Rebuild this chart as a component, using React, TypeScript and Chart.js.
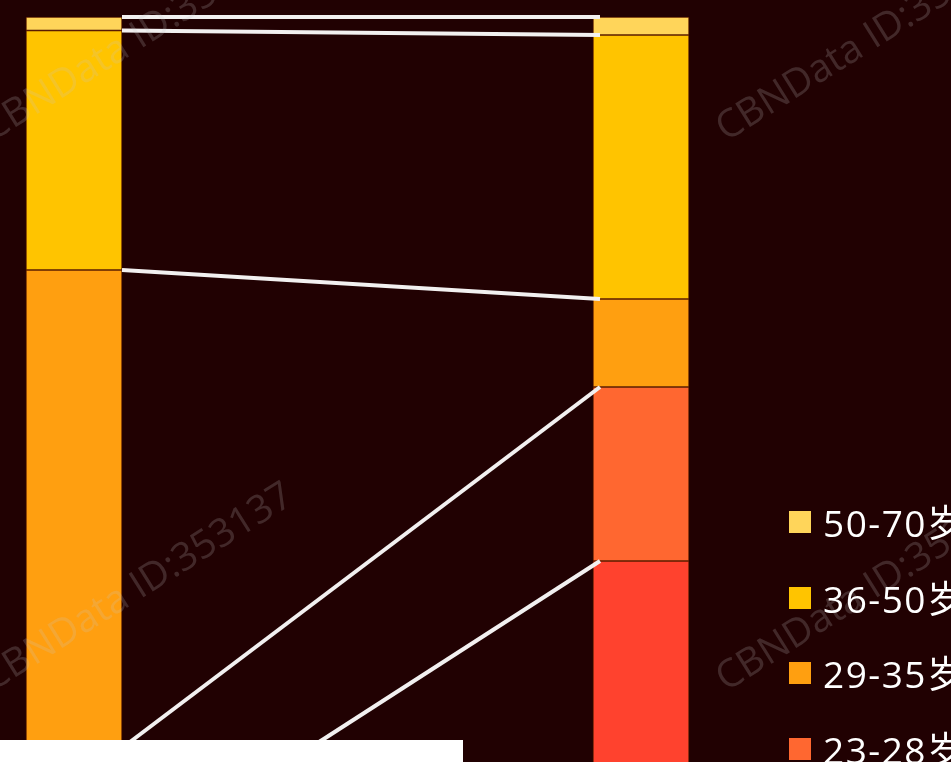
import React, { useEffect, useRef } from "react";
import { Chart, registerables } from "chart.js";

Chart.register(...registerables);

const categories = ["之前", "之后"];
const ageGroups = ["50-70岁", "36-50岁", "29-35岁", "23-28岁", "18-22岁"];
const leftShares = [1.35, 23.95, 47.8, 12.1, 14.8];
const rightShares = [1.8, 26.4, 8.8, 17.4, 45.6];
const groupColors = ["#FFD55A", "#FFC400", "#FF9F10", "#FF6730", "#FF422E"];
const watermarkText = "CBNData ID:353137";

const BG = "#210102";
const CANVAS_W = 951;
const CANVAS_H = 1040;

const connectorPlugin = {
  id: "connectors",
  afterDatasetsDraw(chart: any) {
    const meta = chart.getDatasetMeta(0);
    const bars = meta.data;
    if (!bars || bars.length < 2) return;
    const yScale = chart.scales.y;
    const x1 = bars[0].x + bars[0].width / 2;
    const x2 = bars[1].x - bars[1].width / 2 + 7;
    const ctx = chart.ctx;
    ctx.save();
    ctx.strokeStyle = "#F2F0F0";
    ctx.lineWidth = 4;
    ctx.lineCap = "butt";
    let cl = 0;
    let cr = 0;
    for (let k = 0; k < ageGroups.length; k++) {
      ctx.beginPath();
      ctx.moveTo(x1, yScale.getPixelForValue(cl));
      ctx.lineTo(x2, yScale.getPixelForValue(cr));
      ctx.stroke();
      cl += leftShares[k];
      cr += rightShares[k];
    }
    ctx.restore();
  },
};

const watermarkPlugin = {
  id: "watermark",
  afterDraw(chart: any) {
    const ctx = chart.ctx;
    const spots = [
      [-8, 142],
      [726, 142],
      [-8, 692],
      [726, 692],
    ];
    ctx.save();
    ctx.font = "39px 'Open Sans', 'DejaVu Sans', sans-serif";
    ctx.fillStyle = "rgba(200,200,200,0.2)";
    ctx.textBaseline = "alphabetic";
    for (const [x, y] of spots) {
      ctx.save();
      ctx.translate(x, y);
      ctx.rotate((-32 * Math.PI) / 180);
      ctx.fillText(watermarkText, 0, 0);
      ctx.restore();
    }
    ctx.restore();
  },
};

export default function App() {
  const canvasRef = useRef<HTMLCanvasElement | null>(null);

  useEffect(() => {
    const canvas = canvasRef.current;
    if (!canvas) return;
    const chart = new Chart(canvas, {
      type: "bar",
      data: {
        labels: categories,
        datasets: ageGroups.map((g, i) => ({
          label: g,
          data: [leftShares[i], rightShares[i]],
          backgroundColor: groupColors[i],
          borderColor: "rgba(150,60,0,0.5)",
          borderWidth: 1,
          borderSkipped: false,
          barThickness: 96,
          clip: false as any,
        })),
      },
      options: {
        responsive: false,
        devicePixelRatio: 1,
        animation: false,
        layout: { padding: { left: 74, right: CANVAS_W - 641, top: 17, bottom: CANVAS_H - 1017 } },
        plugins: { legend: { display: false }, tooltip: { enabled: false } },
        scales: {
          x: { type: "category", offset: false, stacked: true, display: false, grid: { display: false } },
          y: { type: "linear", min: 0, max: 100, reverse: true, stacked: true, display: false, grid: { display: false } },
        },
      },
      plugins: [connectorPlugin, watermarkPlugin],
    });
    return () => chart.destroy();
  }, []);

  return (
    <div
      style={{
        position: "fixed",
        left: 0,
        top: 0,
        width: 951,
        height: 762,
        overflow: "hidden",
        background: BG,
      }}
    >
      <canvas
        ref={canvasRef}
        width={CANVAS_W}
        height={CANVAS_H}
        style={{ position: "absolute", left: 0, top: 0, width: CANVAS_W, height: CANVAS_H }}
      />
      {ageGroups.map((g, i) => (
        <div key={g}>
          <div
            style={{
              position: "absolute",
              left: 789,
              top: 511 + i * 75.5,
              width: 22,
              height: 22,
              background: groupColors[i],
            }}
          />
          <div
            style={{
              position: "absolute",
              left: 823,
              top: 504 + i * 75.5,
              fontFamily: "'Open Sans', 'Noto Sans CJK SC', sans-serif",
              fontSize: 37,
              lineHeight: "37px",
              letterSpacing: "1.5px",
              color: "#FFFFFF",
              whiteSpace: "nowrap",
            }}
          >
            {g}
          </div>
        </div>
      ))}
      <div
        style={{
          position: "absolute",
          left: 0,
          top: 740,
          width: 463,
          height: 30,
          background: "#FFFFFF",
        }}
      />
    </div>
  );
}
